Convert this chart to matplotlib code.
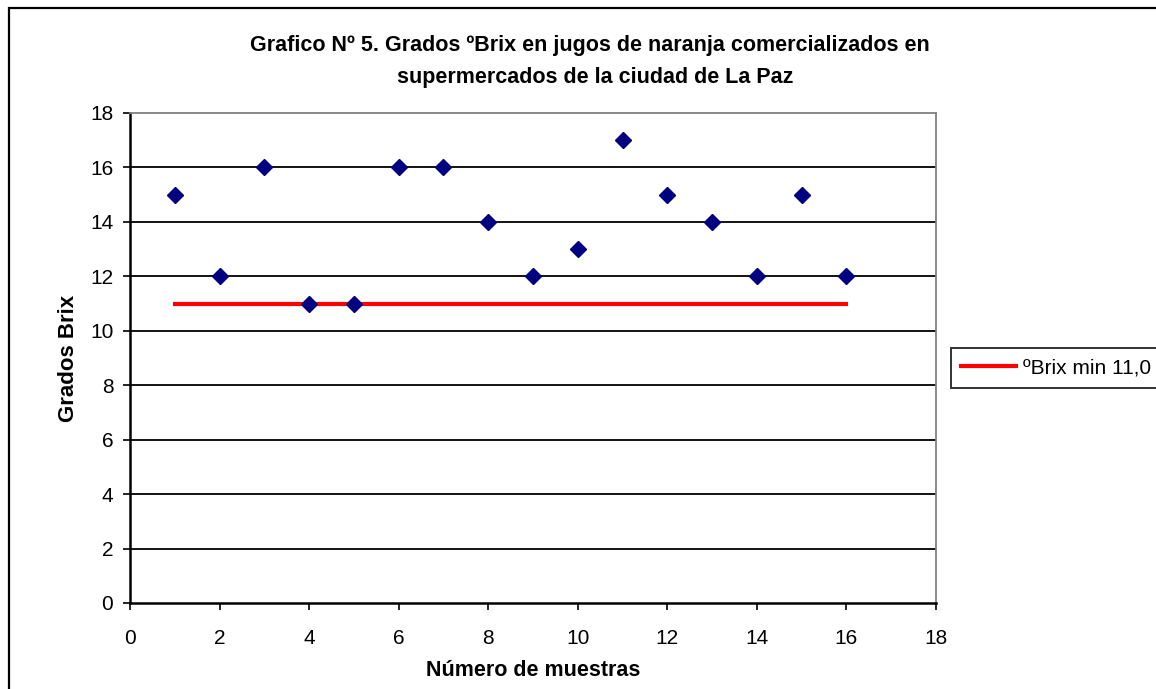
import matplotlib.pyplot as plt
import matplotlib.patches as mpatches

plt.rcParams['font.family'] = ['Liberation Sans', 'DejaVu Sans']

# datos
muestras = [1, 2, 3, 4, 5, 6, 7, 8, 9, 10, 11, 12, 13, 14, 15, 16]
grados_brix = [15, 12, 16, 11, 11, 16, 16, 14, 12, 13, 17, 15, 14, 12, 15, 12]
brix_min = [11.0] * len(muestras)

fig = plt.figure(figsize=(11.56, 6.89), dpi=100)
ax = fig.add_axes([130 / 1156, 86 / 689, 806 / 1156, 490 / 689])

# borde exterior del grafico
borde = mpatches.Rectangle((9 / 1156, -0.05), 1.2, 1 - 8 / 689 + 0.05,
                           transform=fig.transFigure, fill=False,
                           edgecolor='black', linewidth=1.6, clip_on=False)
fig.patches.append(borde)

# lineas de cuadricula
for y in range(2, 18, 2):
    ax.axhline(y, color='black', linewidth=1.3, zorder=1)

linea, = ax.plot(muestras, brix_min, color='#ff0000', linewidth=3, zorder=2,
                 label='ºBrix min 11,0')
ax.plot(muestras, grados_brix, linestyle='none', marker='D', markersize=8.5,
        color='#000080', zorder=3)

ax.set_xlim(0, 18)
ax.set_ylim(0, 18)
ax.set_xticks(range(0, 19, 2))
ax.set_yticks(range(0, 19, 2))
ax.tick_params(direction='out', length=5, width=1.2, labelsize=15, colors='black')
ax.tick_params(axis='x', pad=14)
ax.tick_params(axis='y', pad=7)

for s in ['top', 'right']:
    ax.spines[s].set_color('#808080')
    ax.spines[s].set_linewidth(1.3)
for s in ['left', 'bottom']:
    ax.spines[s].set_color('black')
    ax.spines[s].set_linewidth(1.8)

ax.set_xlabel('Número de muestras', fontsize=15.5, fontweight='bold', labelpad=8)
ax.set_ylabel('Grados Brix', fontsize=16, fontweight='bold', labelpad=8)

fig.text(0.510, 1 - 45 / 689,
         'Grafico Nº 5. Grados ºBrix en jugos de naranja comercializados en',
         ha='center', va='center', fontsize=15.5, fontweight='bold')
fig.text(0.515, 1 - 77 / 689, 'supermercados de la ciudad de La Paz',
         ha='center', va='center', fontsize=15.5, fontweight='bold')

leg = fig.legend(handles=[linea], loc='center left',
                 bbox_to_anchor=(951 / 1156, 1 - 368 / 689), fontsize=15,
                 frameon=True, fancybox=False, handlelength=2.6,
                 borderpad=0.5, handletextpad=0.35, borderaxespad=0)
leg.get_frame().set_edgecolor('black')
leg.get_frame().set_linewidth(1.4)

fig.savefig('out.png', dpi=100)
